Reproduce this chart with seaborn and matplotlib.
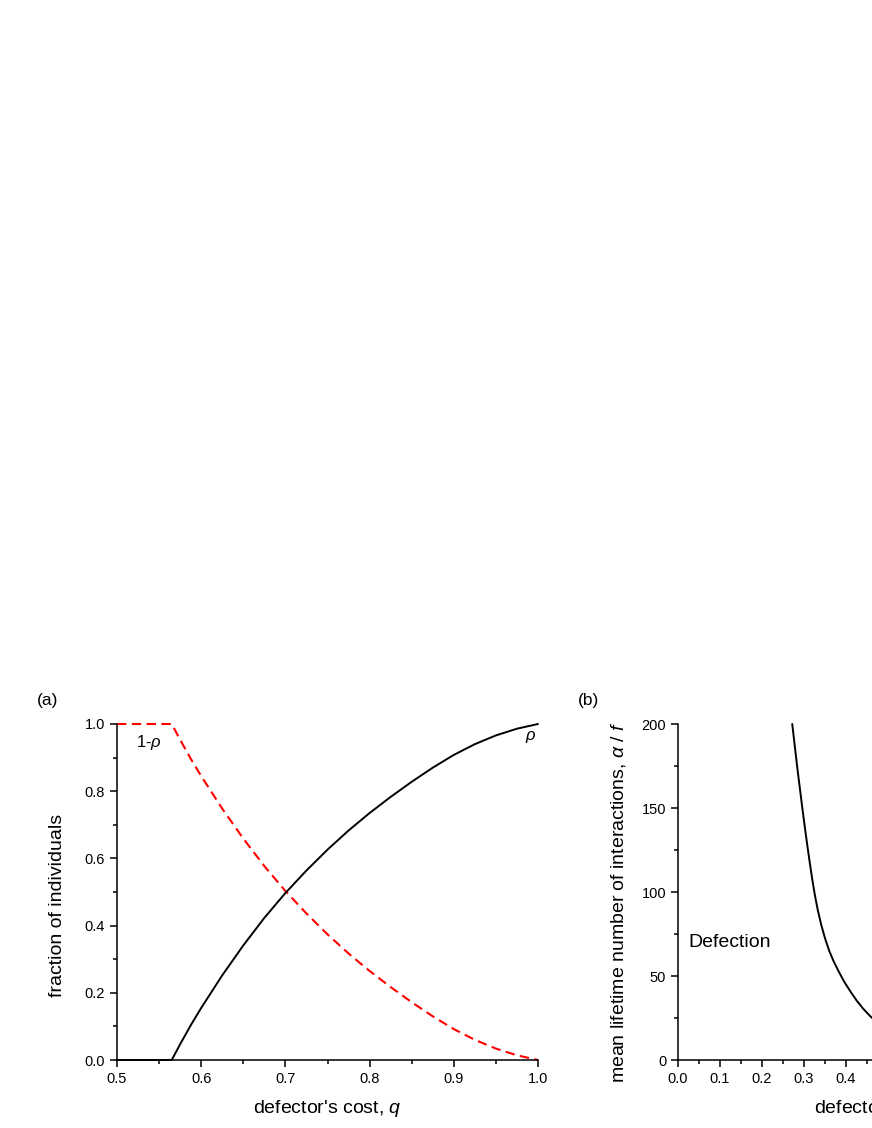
"""Two-panel figure: fraction of individuals vs defector's cost, and the lifetime threshold."""
import numpy as np
import pandas as pd
import matplotlib
matplotlib.use("Agg")
import matplotlib.pyplot as plt
from matplotlib.ticker import MultipleLocator, FormatStrFormatter
import seaborn as sns

# panel (a)
q_a = [0.5, 0.565, 0.575, 0.5875, 0.6, 0.625, 0.65, 0.675, 0.7, 0.725, 0.75, 0.775,
       0.8, 0.825, 0.85, 0.875, 0.9, 0.925, 0.95, 0.975, 1.0]
rho = [0.0, 0.0, 0.047, 0.103, 0.155, 0.252, 0.341, 0.423, 0.497, 0.564, 0.626, 0.683,
       0.735, 0.783, 0.828, 0.870, 0.908, 0.940, 0.966, 0.986, 1.0]
one_minus_rho = [1.0, 1.0, 0.953, 0.897, 0.845, 0.748, 0.659, 0.577, 0.503, 0.436, 0.374, 0.317,
                 0.265, 0.217, 0.172, 0.130, 0.092, 0.060, 0.034, 0.014, 0.0]

# panel (b): threshold curve, visible part only
q_b = [0.272, 0.278, 0.284, 0.290, 0.296, 0.302, 0.308, 0.314, 0.320, 0.326, 0.333,
       0.341, 0.350, 0.360, 0.371, 0.383, 0.396, 0.410, 0.425, 0.441, 0.458, 0.476]
alpha_f = [200, 187, 174, 162, 150, 138.5, 127.5, 117, 107, 98, 89,
           80.5, 72.5, 65, 58.5, 52.5, 46.5, 41, 35.5, 30.5, 26, 22]

sns.set_style("ticks")
plt.rcParams["font.family"] = ["Liberation Sans", "DejaVu Sans"]
plt.rcParams["mathtext.fontset"] = "custom"
plt.rcParams["mathtext.rm"] = "Liberation Sans"
plt.rcParams["mathtext.it"] = "Liberation Sans:italic"
plt.rcParams["axes.linewidth"] = 1.1
for key in ("text.color", "axes.labelcolor", "xtick.color", "ytick.color", "axes.edgecolor"):
    plt.rcParams[key] = "black"

W, H = 872, 1128
fig = plt.figure(figsize=(W / 100, H / 100), dpi=100)


def px_axes(left, top, right, bottom):
    return fig.add_axes([left / W, 1 - bottom / H, (right - left) / W, (bottom - top) / H])


def style(ax):
    sns.despine(ax=ax)
    ax.tick_params(which="major", direction="out", length=5, width=1.1,
                   labelsize=10.5, pad=3.5)
    ax.tick_params(which="minor", direction="out", length=3, width=1.1)


# ---- panel (a)
ax = px_axes(117, 724, 538, 1060)
df_a = pd.DataFrame({"q": q_a, "rho": rho, "one_minus": one_minus_rho})
sns.lineplot(data=df_a, x="q", y="one_minus", ax=ax, color="#ff0000",
             linewidth=1.5, linestyle=(0, (4.5, 2.6)), clip_on=False)
sns.lineplot(data=df_a, x="q", y="rho", ax=ax, color="black",
             linewidth=1.4, clip_on=False)
ax.set_xlim(0.5, 1.0)
ax.set_ylim(0.0, 1.0)
ax.xaxis.set_major_locator(MultipleLocator(0.1))
ax.xaxis.set_minor_locator(MultipleLocator(0.05))
ax.yaxis.set_major_locator(MultipleLocator(0.2))
ax.yaxis.set_minor_locator(MultipleLocator(0.1))
ax.xaxis.set_major_formatter(FormatStrFormatter("%.1f"))
ax.yaxis.set_major_formatter(FormatStrFormatter("%.1f"))
style(ax)
ax.set_xlabel("defector's cost, $q$", fontsize=14, labelpad=9)
ax.set_ylabel("fraction of individuals", fontsize=14, labelpad=10)
ax.yaxis.set_label_coords(-0.12, 0.46)
ax.text(0.522, 0.945, r"1-$\rho$", fontsize=12, ha="left", va="center")
ax.text(0.998, 0.962, r"$\rho$", fontsize=12, ha="right", va="center")

# ---- panel (b), cut off by the right edge of the figure
bx = px_axes(678, 724, 1098, 1060)
df_b = pd.DataFrame({"q": q_b, "alpha_f": alpha_f})
sns.lineplot(data=df_b, x="q", y="alpha_f", ax=bx, color="black",
             linewidth=1.4, clip_on=False)
bx.set_xlim(0.0, 1.0)
bx.set_ylim(0, 200)
bx.xaxis.set_major_locator(MultipleLocator(0.1))
bx.xaxis.set_minor_locator(MultipleLocator(0.05))
bx.yaxis.set_major_locator(MultipleLocator(50))
bx.yaxis.set_minor_locator(MultipleLocator(25))
bx.xaxis.set_major_formatter(FormatStrFormatter("%.1f"))
style(bx)
bx.set_xlabel("defector's cost, $q$", fontsize=14, labelpad=9)
bx.set_ylabel(r"mean lifetime number of interactions, $\alpha\ /\ f$", fontsize=14)
bx.yaxis.set_label_coords(-0.12, 0.47)
bx.text(0.024, 70, "Defection", fontsize=14, ha="left", va="center")

fig.text(37 / W, 1 - 700 / H, "(a)", fontsize=12.5, va="center", ha="left")
fig.text(578 / W, 1 - 700 / H, "(b)", fontsize=12.5, va="center", ha="left")

plt.savefig("out.png", dpi=100)
plt.close()
